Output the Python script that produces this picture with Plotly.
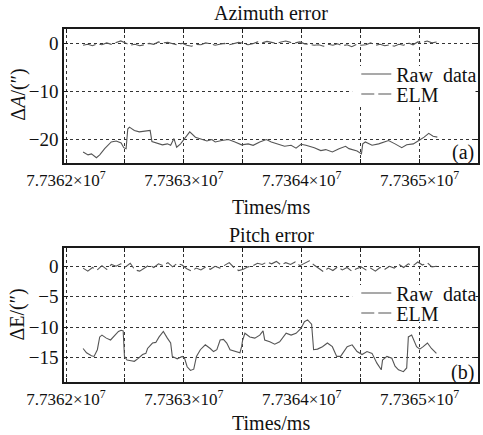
import plotly.graph_objects as go

# ---------------- data ----------------
# time in ms (absolute)
az_raw_t = [77362145, 77362187, 77362216, 77362258, 77362286, 77362328, 77362384, 77362426, 77362468, 77362490,
            77362510, 77362524, 77362538, 77362580, 77362622, 77362678, 77362714, 77362729, 77362776, 77362818,
            77362860, 77362888, 77362916, 77362939, 77362972, 77363008, 77363050, 77363098, 77363154, 77363196,
            77363238, 77363266, 77363322, 77363378, 77363434, 77363490, 77363546, 77363588, 77363644, 77363700,
            77363742, 77363798, 77363855, 77363910, 77363952, 77363994, 77364036, 77364107, 77364162, 77364204,
            77364260, 77364317, 77364372, 77364401, 77364470, 77364507, 77364518, 77364540, 77364597, 77364653,
            77364708, 77364737, 77364792, 77364849, 77364891, 77364947, 77364994, 77365039, 77365078, 77365115,
            77365151]
az_raw_v = [-22.7, -23.3, -23.1, -23.9, -23.3, -22.0, -20.6, -20.4, -20.8, -21.8,
            -22.0, -17.9, -17.5, -18.2, -18.5, -18.4, -18.2, -20.5, -20.8, -21.2,
            -21.0, -21.3, -19.9, -21.7, -21.0, -19.8, -18.5, -19.6, -20.1, -20.4,
            -20.1, -20.6, -20.3, -20.1, -20.6, -21.2, -21.0, -21.3, -20.6, -20.1,
            -20.6, -21.1, -21.5, -21.3, -21.9, -21.1, -21.3, -21.8, -22.4, -22.2,
            -22.7, -22.0, -21.5, -22.0, -22.5, -23.1, -21.0, -20.6, -21.3, -21.0,
            -20.6, -20.3, -21.0, -21.8, -21.2, -21.0, -20.3, -19.6, -18.8, -19.4,
            -19.6]

elm_t = [77362145, 77362185, 77362225, 77362265, 77362305, 77362345, 77362385, 77362425, 77362465, 77362505,
         77362545, 77362585, 77362625, 77362665, 77362705, 77362745, 77362785, 77362825, 77362865, 77362905,
         77362945, 77362985, 77363025, 77363065, 77363105, 77363145, 77363185, 77363225, 77363265, 77363305,
         77363345, 77363385, 77363425, 77363465, 77363505, 77363545, 77363585, 77363625, 77363665, 77363705,
         77363745, 77363785, 77363825, 77363865, 77363905, 77363945, 77363985, 77364025, 77364065, 77364105,
         77364145, 77364185, 77364225, 77364265, 77364305, 77364345, 77364385, 77364425, 77364465, 77364505,
         77364545, 77364585, 77364625, 77364665, 77364705, 77364745, 77364785, 77364825, 77364865, 77364905,
         77364945, 77364985, 77365025, 77365065, 77365105, 77365145]
az_elm_v = [-0.4, -0.2, -0.5, -0.1, -0.3, 0.1, -0.2, 0.2, 0.5, 0.1,
            -0.4, -0.2, -0.5, -0.3, 0.0, -0.2, 0.3, 0.1, 0.2, -0.1,
            -0.3, 0.0, -0.4, -0.6, -0.2, -0.3, 0.1, -0.1, -0.4, -0.2,
            0.0, -0.3, -0.1, 0.2, 0.0, -0.3, -0.1, 0.3, 0.1, 0.4,
            0.2, 0.0, 0.3, 0.5, 0.2, 0.1, 0.3, -0.1, -0.2, -0.4,
            -0.3, -0.6, -0.2, -0.4, -0.1, -0.5, -0.3, -0.7, -0.2, -0.4,
            -0.3, 0.1, -0.4, -0.2, -0.5, -0.3, -0.6, -0.2, -0.4, 0.1,
            -0.3, 0.3, 0.2, 0.5, 0.1, 0.3]

pi_raw_t = [77362145, 77362174, 77362216, 77362238, 77362266, 77362286, 77362305, 77362342, 77362378, 77362412,
            77362445, 77362468, 77362485, 77362496, 77362518, 77362552, 77362580, 77362608, 77362650, 77362678,
            77362692, 77362734, 77362762, 77362790, 77362826, 77362860, 77362888, 77362902, 77362944, 77362986,
            77363006, 77363028, 77363056, 77363084, 77363107, 77363140, 77363182, 77363224, 77363252, 77363280,
            77363308, 77363336, 77363364, 77363392, 77363434, 77363476, 77363490, 77363498, 77363518, 77363560,
            77363602, 77363644, 77363672, 77363686, 77363729, 77363771, 77363813, 77363868, 77363910, 77363952,
            77363994, 77364023, 77364050, 77364084, 77364101, 77364134, 77364176, 77364218, 77364260, 77364297,
            77364330, 77364364, 77364386, 77364428, 77364470, 77364512, 77364554, 77364597, 77364638, 77364675,
            77364686, 77364723, 77364765, 77364792, 77364821, 77364863, 77364891, 77364905, 77364933, 77364975,
            77365002, 77365031, 77365067, 77365101, 77365143]
pi_raw_v = [-13.5, -14.2, -14.7, -14.8, -13.7, -11.6, -11.3, -11.8, -12.1, -11.4,
            -10.7, -10.5, -10.6, -14.8, -15.4, -15.5, -15.6, -15.2, -14.5, -14.3,
            -13.5, -12.6, -12.5, -11.6, -10.7, -11.8, -12.6, -14.8, -15.2, -14.8,
            -15.1, -16.5, -17.1, -16.9, -14.8, -13.7, -12.9, -13.5, -14.0, -13.7,
            -12.1, -12.0, -12.6, -13.7, -14.0, -14.2, -13.2, -12.2, -11.0, -11.6,
            -11.8, -11.3, -10.6, -12.1, -12.4, -12.8, -12.4, -11.0, -11.3, -11.0,
            -10.2, -9.1, -8.8, -9.5, -13.7, -13.6, -13.2, -12.6, -13.2, -14.8,
            -14.8, -13.8, -13.2, -12.9, -14.0, -14.5, -14.0, -14.3, -15.9, -17.0,
            -15.4, -14.8, -15.1, -16.4, -17.0, -17.3, -16.7, -11.6, -11.3, -13.2,
            -13.6, -13.2, -12.6, -13.5, -14.3]

pi_elm_v = [-0.3, -0.8, -0.2, -0.6, 0.1, -0.5, 0.3, 0.0, 0.4, -0.1,
            0.5, -0.6, -0.8, -0.3, 0.2, -0.2, 0.4, 0.1, 0.6, -0.1,
            0.5, 0.2, -0.4, -0.8, -0.3, -0.6, -0.1, -0.5, 0.0, -0.3,
            0.2, 0.6, -0.2, -0.7, -0.5, -0.1, 0.1, 0.5, 0.3, 0.7,
            0.4, 0.8, 0.2, 0.6, 0.3, 0.7, 0.1, 0.5, 0.9, 0.2,
            -0.4, -0.9, -0.3, -0.7, -0.1, -0.6, -0.2, -0.8, -0.4, -0.1,
            -0.6, -0.3, -0.8, -0.2, -0.5, 0.0, -0.3, 0.3, -0.2, 0.4,
            0.1, 0.7, 0.2, 0.6, -0.1, 0.0]

x_tickvals = [77362000, 77362500, 77363000, 77363500, 77364000, 77364500, 77365000]
x_ticktext = ["7.7362×10<sup>7</sup>", "", "7.7363×10<sup>7</sup>", "", "7.7364×10<sup>7</sup>", "",
              "7.7365×10<sup>7</sup>"]
x_range = [77361983, 77365496]
az_yticks = [-20, -10, 0]
pi_yticks = [-15, -10, -5, 0]

# ---------------- figure ----------------
FONT = "Liberation Serif"
LINE_C = "#555555"
TXT_C = "#111111"
ELM_DASH = "13px,4px"

fig = go.Figure()
fig.add_trace(go.Scatter(x=az_raw_t, y=az_raw_v, mode="lines", name="Raw\u00a0\u00a0data",
                         line=dict(color=LINE_C, width=1.1), xaxis="x", yaxis="y", legend="legend"))
fig.add_trace(go.Scatter(x=elm_t, y=az_elm_v, mode="lines", name="ELM",
                         line=dict(color=LINE_C, width=1.1, dash=ELM_DASH), xaxis="x", yaxis="y",
                         legend="legend2"))
fig.add_trace(go.Scatter(x=pi_raw_t, y=pi_raw_v, mode="lines", name="Raw\u00a0\u00a0data",
                         line=dict(color=LINE_C, width=1.1), xaxis="x2", yaxis="y2", legend="legend3"))
fig.add_trace(go.Scatter(x=elm_t, y=pi_elm_v, mode="lines", name="ELM",
                         line=dict(color=LINE_C, width=1.1, dash=ELM_DASH), xaxis="x2", yaxis="y2",
                         legend="legend4"))

axis_common = dict(showline=True, linecolor="#1a1a1a", linewidth=1.5, mirror="ticks",
                   ticks="inside", ticklen=4, tickcolor="#1a1a1a",
                   showgrid=True, gridcolor="#333333", griddash="dot", gridwidth=1,
                   zeroline=False)
xfont = dict(family=FONT, size=17, color=TXT_C)
yfont = dict(family=FONT, size=19, color=TXT_C)

def leg(y):
    return dict(x=0.706, xanchor="left", y=y, yanchor="middle", bgcolor="rgba(0,0,0,0)",
                font=dict(family=FONT, size=20, color=TXT_C), borderwidth=0, itemwidth=30)

fig.update_layout(
    width=483, height=435,
    margin=dict(l=64, r=1, t=29, b=53),
    paper_bgcolor="white", plot_bgcolor="white",
    font=dict(family=FONT, size=19, color=TXT_C),
    xaxis=dict(domain=[0, 1], anchor="y", range=x_range, tickmode="array", tickfont=xfont,
               tickvals=x_tickvals, ticktext=x_ticktext, ticklabelstandoff=1, **axis_common),
    yaxis=dict(domain=[0.6204, 1], anchor="x", range=[-25, 3], tickmode="array", tickfont=yfont,
               tickvals=az_yticks, **axis_common),
    xaxis2=dict(domain=[0, 1], anchor="y2", range=x_range, tickmode="array", tickfont=xfont,
                tickvals=x_tickvals, ticktext=x_ticktext, ticklabelstandoff=1, **axis_common),
    yaxis2=dict(domain=[0, 0.3796], anchor="x2", range=[-19, 3], tickmode="array", tickfont=yfont,
                tickvals=pi_yticks, **axis_common),
    legend=leg(0.8725),
    legend2=leg(0.8159),
    legend3=leg(0.2521),
    legend4=leg(0.1955),
    showlegend=True,
)

# white backing behind the legends (covers grid lines like the reference legend box)
for y0, y1 in [(0.7819, 0.8952), (0.170, 0.2748)]:
    fig.add_shape(type="rect", xref="paper", yref="paper", x0=0.696, x1=0.994, y0=y0, y1=y1,
                  fillcolor="white", line=dict(width=0), layer="above")

ann = dict(xref="paper", yref="paper", showarrow=False, font=dict(family=FONT, size=20, color=TXT_C))
fig.add_annotation(text="Azimuth\u00a0error", x=0.5, y=1.045, xanchor="center", yanchor="middle", **ann)
fig.add_annotation(text="Pitch\u00a0error", x=0.5, y=0.4164, xanchor="center", yanchor="middle", **ann)
fig.add_annotation(text="Times/ms", x=0.5, y=0.4958, xanchor="center", yanchor="middle", **ann)
fig.add_annotation(text="Times/ms", x=0.5, y=-0.116, xanchor="center", yanchor="middle", **ann)
fig.add_annotation(text="Δ<i>A</i>/(″)", x=-0.112, y=0.813, xanchor="center", yanchor="middle",
                   textangle=-90, **ann)
fig.add_annotation(text="ΔE/(″)", x=-0.112, y=0.19, xanchor="center", yanchor="middle",
                   textangle=-90, **ann)
fig.add_annotation(text="(a)", x=0.995, y=0.649, xanchor="right", yanchor="middle", **ann)
fig.add_annotation(text="(b)", x=0.995, y=0.028, xanchor="right", yanchor="middle", **ann)

fig.write_html("out.html", config={"displayModeBar": False},
               post_script="document.body.style.margin='0';document.body.style.overflow='hidden';")
